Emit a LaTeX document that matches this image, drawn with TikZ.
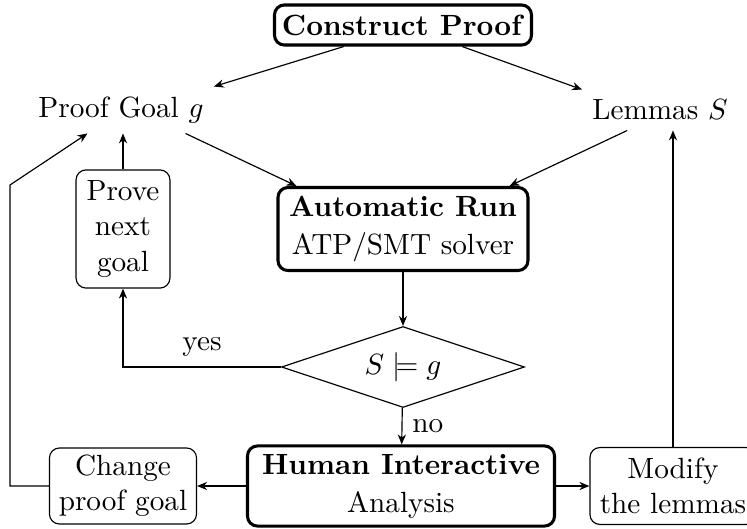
\documentclass[tikz,border=0pt]{standalone}
\usetikzlibrary{arrows.meta,shapes.geometric}
\begin{document}
\begin{tikzpicture}[x=0.342pt,y=-0.342pt,
  box/.style={draw, rounded corners=3.4pt, align=center, inner sep=0pt},
  mainbox/.style={box, line width=1.05pt},
  arr/.style={-{Stealth[length=3.4pt,width=2.8pt]}},
  plain/.style={inner sep=3.33pt},
]
\useasboundingbox (0,0) rectangle (747,529);
\node[mainbox, minimum width=87.9pt, minimum height=13.7pt] (cp) at (403,25) {\textbf{Construct Proof}};
\node[plain] (pg) at (121,110) {Proof Goal $g$};
\node[plain] (lm) at (660,110) {Lemmas $S$};
\node[mainbox, minimum width=85.5pt, minimum height=28.4pt] (ar) at (403,229) {\textbf{Automatic Run}\\[1pt] ATP/SMT solver};
\node[draw, diamond, shape aspect=3, inner sep=0pt, minimum width=83.1pt, minimum height=27.7pt] (dm) at (403,367) {$S \models g$};
\node[box, minimum width=32.1pt, minimum height=40.4pt] (pn) at (123,229) {Prove\\ next\\ goal};
\node[mainbox, minimum width=105pt, minimum height=27.4pt] (hi) at (401,486) {\textbf{Human Interactive}\\[1pt] Analysis};
\node[box, minimum width=50.3pt, minimum height=26pt] (cg) at (123,486) {Change\\ proof goal};
\node[box, minimum width=56.8pt, minimum height=26.3pt] (md) at (673,486) {Modify\\ the lemmas};

\draw[arr] (cp.200) -- (pg.north east);
\draw[arr] (cp.340) -- (lm.north west);
\draw[arr] (pg.340) -- (ar.158);
\draw[arr] (lm.212) -- (ar.22);
\draw[arr] (ar) -- (dm);
\draw[arr] (dm.west) -| node[pos=0.25, above] {yes} (pn.south);
\draw[arr] (pn.north) -- (pn.north |- pg.south);
\draw[arr] (dm) -- node[right] {no} (hi);
\draw[arr] (hi) -- (cg);
\draw[arr] (hi) -- (md);
\draw[arr] (md.north) -- (md.north |- lm.south);
\coordinate (c0) at (10,486);
\coordinate (c1) at (10,185);
\draw[arr] (cg.west) -- (c0) -- (c1) -- (pg.215);
\end{tikzpicture}
\end{document}
